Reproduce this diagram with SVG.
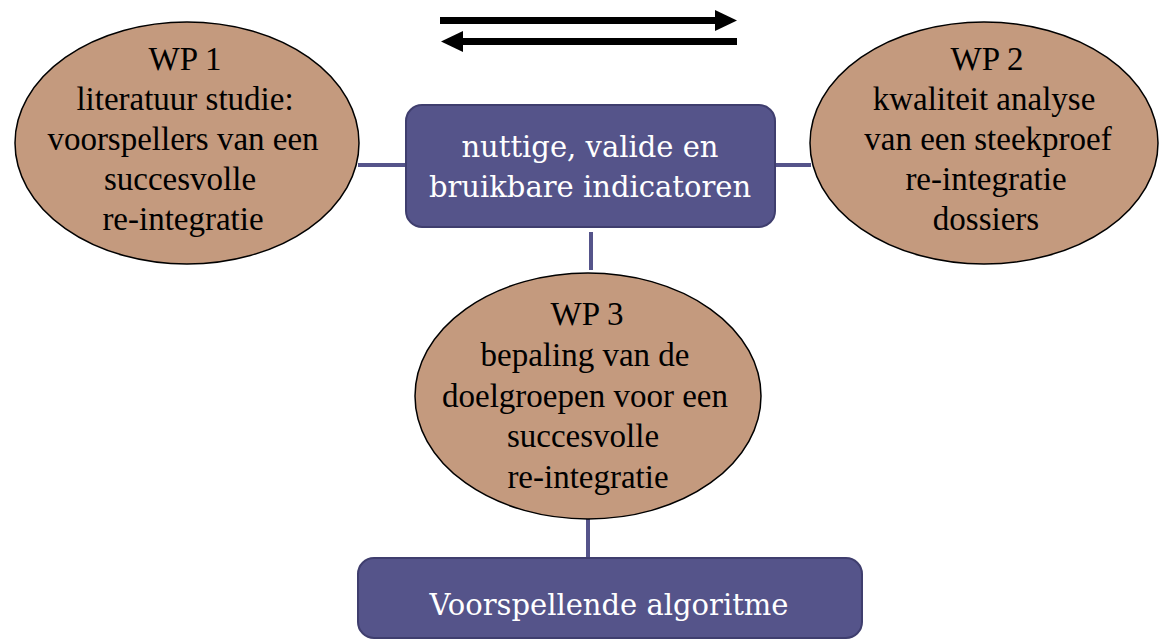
<svg xmlns="http://www.w3.org/2000/svg" width="1160" height="640" viewBox="0 0 1160 640">
<defs>
<style>
.wp{fill:#C49A7E;stroke:#000;stroke-width:1.5}
.box{fill:#55548A;stroke:#3F3E6E;stroke-width:2}
.con{stroke:#55548A;stroke-width:4;fill:none}
.t{font-family:"Liberation Serif","Times New Roman",serif;font-size:33px;fill:#000;text-anchor:middle}
.bt{font-family:"DejaVu Serif","Liberation Serif",serif;font-size:29px;fill:#fff;text-anchor:middle}
</style>
</defs>
<rect width="1160" height="640" fill="#fff"/>
<g id="connectors">
<line class="con" x1="358" y1="165" x2="407" y2="165"/>
<line class="con" x1="775" y1="165" x2="811" y2="165"/>
<line class="con" x1="591" y1="232" x2="591" y2="270"/>
<line class="con" x1="588" y1="519" x2="588" y2="558"/>
</g>
<g id="arrows">
<line x1="440" y1="20.5" x2="717" y2="20.5" stroke="#000" stroke-width="7"/>
<polygon points="715,10 737,20.5 715,31" fill="#000"/>
<line x1="461" y1="41.5" x2="737" y2="41.5" stroke="#000" stroke-width="7"/>
<polygon points="463,31 441,41.5 463,52" fill="#000"/>
</g>
<g id="wp1">
<ellipse class="wp" cx="187" cy="143" rx="172" ry="121"/>
<text class="t" x="185" y="70">WP 1</text>
<text class="t" x="185" y="110">literatuur studie:</text>
<text class="t" x="183" y="150">voorspellers van een</text>
<text class="t" x="180" y="190">succesvolle</text>
<text class="t" x="183" y="230">re-integratie</text>
</g>
<g id="wp2">
<ellipse class="wp" cx="984" cy="143" rx="174" ry="121"/>
<text class="t" x="987" y="70">WP 2</text>
<text class="t" x="984" y="110">kwaliteit analyse</text>
<text class="t" x="988" y="150">van een steekproef</text>
<text class="t" x="986" y="190">re-integratie</text>
<text class="t" x="986" y="230">dossiers</text>
</g>
<g id="wp3">
<ellipse class="wp" cx="588" cy="396" rx="173" ry="123"/>
<text class="t" x="587" y="325">WP 3</text>
<text class="t" x="585" y="366">bepaling van de</text>
<text class="t" x="585" y="407">doelgroepen voor een</text>
<text class="t" x="583" y="447">succesvolle</text>
<text class="t" x="588" y="488">re-integratie</text>
</g>
<g id="indicatoren">
<rect class="box" x="406" y="105" width="369" height="122" rx="16"/>
<text class="bt" x="590" y="157">nuttige, valide en</text>
<text class="bt" x="590" y="197">bruikbare indicatoren</text>
</g>
<g id="algoritme">
<rect class="box" x="358" y="558" width="504" height="80" rx="16"/>
<text class="bt" x="609" y="615">Voorspellende algoritme</text>
</g>
</svg>
